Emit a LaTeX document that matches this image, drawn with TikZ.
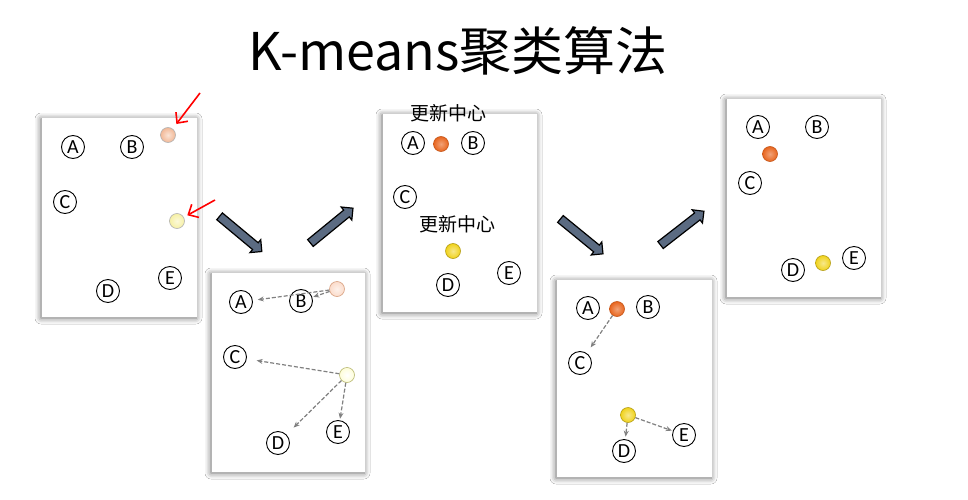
\documentclass[tikz,border=0pt]{standalone}
\usepackage{fontspec}
\setmainfont{Carlito}
\newfontfamily\cjkfont{Noto Sans CJK SC}
\usetikzlibrary{shapes.arrows,shadows.blur,arrows.meta}
\definecolor{arrowfill}{HTML}{5B6B82}
\definecolor{peach}{HTML}{F2B896}
\definecolor{paleyel}{HTML}{F6F0A4}
\definecolor{vpeach}{HTML}{FBDCCB}
\definecolor{vpeachb}{HTML}{D8A080}
\definecolor{vyel}{HTML}{FEFDD8}
\definecolor{vyelb}{HTML}{B8B870}
\definecolor{ctrorange}{HTML}{E8651E}
\definecolor{ctryellow}{HTML}{F0D21A}
\definecolor{dashgray}{HTML}{808080}
\tikzset{
  panel/.style={fill=white, draw=none, inner sep=0pt,
    blur shadow={shadow blur radius=6pt, shadow xshift=-1pt, shadow yshift=-1pt, shadow opacity=60}},
  letter/.style={circle, draw=black, line width=0.9pt, minimum size=23pt, inner sep=0pt,
    font=\fontsize{20}{20}\selectfont},
  ctr/.style={circle, minimum size=15pt, inner sep=0pt, line width=0.6pt},
  ctrpeach/.style={ctr, draw=gray!60, inner color=peach!40!white, outer color=peach},
  ctrpale/.style={ctr, draw=gray!60, inner color=paleyel!40!white, outer color=paleyel},
  ctrvpeach/.style={ctr, draw=vpeachb, inner color=vpeach!40!white, outer color=vpeach},
  ctrvyel/.style={ctr, draw=vyelb, inner color=white, outer color=vyel},
  ctrorg/.style={ctr, draw=ctrorange!85!black, inner color=ctrorange!60!white, outer color=ctrorange},
  ctryel/.style={ctr, draw=ctryellow!75!black, inner color=ctryellow!50!white, outer color=ctryellow},
  bigarrow/.style={single arrow, draw=black, fill=arrowfill, line width=1.2pt,
    minimum width=16pt, single arrow head extend=4pt, inner xsep=0pt, inner ysep=3.8pt,
    minimum height=55pt},
  redarrow/.style={draw=red, line width=1.6pt, -{Straight Barb[length=8pt,width=15pt]}},
  dasharrow/.style={draw=dashgray, line width=1.2pt, dash pattern=on 4pt off 2pt,
    -{Stealth[length=6pt,width=5pt]}},
  upd/.style={font=\cjkfont\fontsize{19}{19}\selectfont, inner sep=0pt}
}
\begin{document}
\begin{tikzpicture}[x=1pt,y=-1pt]
\useasboundingbox (0,0) rectangle (968,500);
\fill[white] (0,0) rectangle (968,500);
% title
\node[font=\cjkfont\fontsize{52}{52}\selectfont, anchor=base, inner sep=0pt] (title) at (458,71) {K-means聚类算法};
% panels
\node[panel, minimum width=155pt, minimum height=199pt] (P1) at (119.5,217.5) {};
\node[panel, minimum width=153pt, minimum height=199pt] (P2) at (288.5,372.5) {};
\node[panel, minimum width=154pt, minimum height=198pt] (P3) at (460,213) {};
\node[panel, minimum width=155pt, minimum height=197pt] (P4) at (634.5,378.5) {};
\node[panel, minimum width=154pt, minimum height=198pt] (P5) at (804,198) {};
% big arrows
\node[bigarrow, rotate=-39.8] (BA1) at (239,232.5) {};
\node[bigarrow, rotate=39.3] (BA2) at (330,227) {};
\node[bigarrow, rotate=-39.3] (BA3) at (580,235) {};
\node[bigarrow, rotate=37.9] (BA4) at (680.5,229.5) {};
% panel 1
\node[letter] (p1A) at (73,147) {A};
\node[letter] (p1B) at (132,147) {B};
\node[letter] (p1C) at (65,202) {C};
\node[letter] (p1D) at (108,291) {D};
\node[letter] (p1E) at (170,278) {E};
\node[ctrpeach] (p1c1) at (168,135) {};
\node[ctrpale] (p1c2) at (177,221) {};
\coordinate (r1) at (200,93);
\coordinate (r2) at (215,200);
\draw[redarrow, shorten >=6pt] (r1) -- (p1c1);
\draw[redarrow, shorten >=4pt] (r2) -- (p1c2);
% panel 2
\node[letter] (p2A) at (241,302) {A};
\node[letter] (p2B) at (301,301) {B};
\node[letter] (p2C) at (235,357) {C};
\node[letter] (p2D) at (278,443) {D};
\node[letter] (p2E) at (338,432) {E};
\node[ctrvpeach] (p2c1) at (337,289) {};
\node[ctrvyel] (p2c2) at (347,375) {};
\draw[dasharrow, shorten >=5pt] (p2c1) -- (p2A);
\draw[dasharrow, shorten >=1pt] (p2c1) -- (p2B);
\draw[dasharrow, shorten >=10pt] (p2c2) -- (p2C);
\draw[dasharrow, shorten >=10pt] (p2c2) -- (p2D);
\draw[dasharrow, shorten >=1.5pt] (p2c2) -- (p2E);
% panel 3
\node[upd] (u1) at (448,113) {更新中心};
\node[letter] (p3A) at (413,143) {A};
\node[ctrorg] (p3c1) at (441,144) {};
\node[letter] (p3B) at (473,143) {B};
\node[letter] (p3C) at (405,197) {C};
\node[upd] (u2) at (457,224) {更新中心};
\node[ctryel] (p3c2) at (453,251) {};
\node[letter] (p3D) at (448,285) {D};
\node[letter] (p3E) at (509,273) {E};
% panel 4
\node[letter] (p4A) at (588,308) {A};
\node[ctrorg] (p4c1) at (617,309) {};
\node[letter] (p4B) at (648,307) {B};
\node[letter] (p4C) at (580,363) {C};
\node[ctryel] (p4c2) at (628,415) {};
\node[letter] (p4D) at (624,451) {D};
\node[letter] (p4E) at (684,435) {E};
\draw[dasharrow, shorten >=7pt] (p4c1) -- (p4C);
\draw[dasharrow, shorten >=2.5pt] (p4c2) -- (p4D);
\draw[dasharrow, shorten >=1pt] (p4c2) -- (p4E);
% panel 5
\node[letter] (p5A) at (758,127) {A};
\node[letter] (p5B) at (817,127) {B};
\node[ctrorg] (p5c1) at (770,154) {};
\node[letter] (p5C) at (750,183) {C};
\node[letter] (p5D) at (793,270) {D};
\node[ctryel] (p5c2) at (823,263) {};
\node[letter] (p5E) at (854,258) {E};
\end{tikzpicture}
\end{document}
